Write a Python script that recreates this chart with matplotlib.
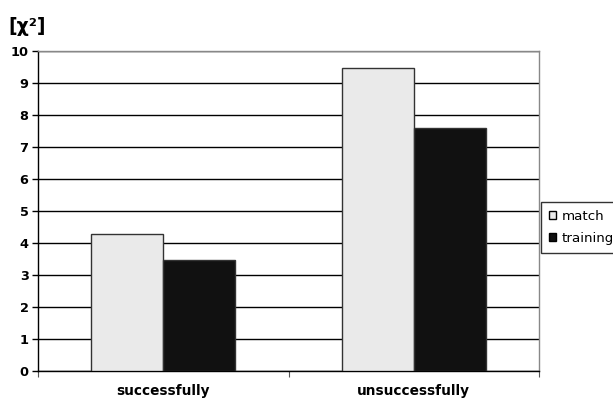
import matplotlib
matplotlib.use("Agg")
import matplotlib.pyplot as plt
import numpy as np

categories = ["successfully", "unsuccessfully"]
match = [4.27, 9.47]
training = [3.46, 7.60]
series_names = ["match", "training"]
yticks = list(range(0, 11))

plt.rcParams['font.family'] = ['DejaVu Sans']

W, H = 613, 399
fig = plt.figure(figsize=(W / 100, H / 100), dpi=100)
l, r, t, b = 38.3, 539, 51, 370.5
ax = fig.add_axes([l / W, 1 - b / H, (r - l) / W, (b - t) / H])

x = np.arange(len(categories))
bw = 0.2876
ax.bar(x - bw / 2, match, bw, color="#EAEAEA", edgecolor="#333333", linewidth=1.0,
       label=series_names[0], zorder=3)
ax.bar(x + bw / 2, training, bw, color="#111111", edgecolor="#333333", linewidth=1.0,
       label=series_names[1], zorder=3)

ax.set_xlim(-0.5, 1.5)
ax.set_ylim(0, 10)
ax.set_yticks(yticks)
ax.set_yticklabels([str(v) for v in yticks], fontsize=9.3, fontweight="bold")
ax.yaxis.grid(True, color="black", linewidth=1.0, zorder=0)
ax.set_axisbelow(True)

ax.set_xticks([-0.5, 0.5, 1.5])
ax.set_xticklabels(["", "", ""])
ax.set_xticks(x, minor=True)
ax.set_xticklabels(categories, minor=True, fontsize=9.8, fontweight="bold")
ax.tick_params(axis="x", which="minor", length=0, pad=9.5)
ax.tick_params(axis="x", which="major", length=4, direction="out", color="#555555")
ax.tick_params(axis="y", length=4, width=1, pad=3.0, direction="out")

for s in ["top", "right"]:
    ax.spines[s].set_color("#888888")
    ax.spines[s].set_linewidth(1.0)
for s in ["left", "bottom"]:
    ax.spines[s].set_color("black")
    ax.spines[s].set_linewidth(1.0)

fig.text(8 / W, 1 - 32 / H, "[χ²]", fontsize=13.5, fontweight="bold", ha="left", va="baseline")

leg = ax.legend(loc="upper left", bbox_to_anchor=(540.7 / W, 1 - 201.7 / H),
                bbox_transform=fig.transFigure, borderaxespad=0, fontsize=9.6,
                frameon=True, fancybox=False, handlelength=0.55, handleheight=0.55,
                handletextpad=0.45, borderpad=0.6, labelspacing=0.7)
leg.get_frame().set_edgecolor("black")
leg.get_frame().set_linewidth(1.0)
for p in leg.get_patches():
    p.set_edgecolor("black")

fig.savefig("out.png", dpi=100)
